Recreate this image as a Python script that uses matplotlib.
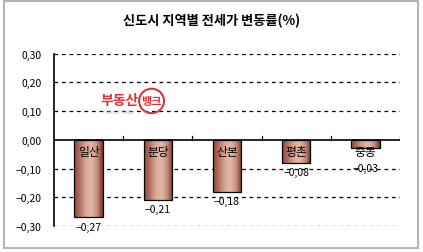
import numpy as np
import matplotlib.pyplot as plt
from matplotlib.colors import LinearSegmentedColormap
from matplotlib.patches import Rectangle, Ellipse
from matplotlib.ticker import FuncFormatter, MultipleLocator

plt.rcParams['font.family'] = ['Noto Sans CJK KR', 'DejaVu Sans']

regions = ["일산", "분당", "산본", "평촌", "중동"]
changes = [-0.27, -0.21, -0.18, -0.08, -0.03]
title = "신도시 지역별 전세가 변동률(%)"


def fmt(v):
    s = f"{v:.2f}".replace(".", ",")
    return s.replace("-", "−")


fig = plt.figure(figsize=(4.23, 2.53), dpi=100)
fig.patches.append(Rectangle((4 / 423, 1 - 249 / 253), 414 / 423, 247 / 253,
                             transform=fig.transFigure, fill=False,
                             edgecolor="#b4b4b4", linewidth=1.5))
ax = fig.add_axes([54 / 423, 1 - 227 / 253, 346 / 423, 172.5 / 253])

x = np.arange(len(regions))
bars = ax.bar(x, changes, width=0.41, facecolor="none", edgecolor="black",
              linewidth=0.9, zorder=4)

# cylinder-like shading across each bar
cmap = LinearSegmentedColormap.from_list(
    "cyl", ["#8c4a3a", "#b47262", "#d6a696", "#e2b9a9", "#c88f7d", "#7a382a"])
grad = np.linspace(0, 1, 64).reshape(1, -1)
for b in bars:
    x0, w = b.get_x(), b.get_width()
    y1 = b.get_height()
    ax.imshow(grad, cmap=cmap, aspect="auto", extent=[x0, x0 + w, y1, 0],
              zorder=3, interpolation="bilinear")

ax.set_xlim(-0.5, len(regions) - 0.5)
ax.set_ylim(-0.30, 0.30)
ax.yaxis.set_major_locator(MultipleLocator(0.1))
ax.yaxis.set_major_formatter(FuncFormatter(lambda v, p: fmt(round(v, 2) + 0.0)))
ax.tick_params(axis="y", length=0, labelsize=7.5, pad=9)
ax.tick_params(axis="x", length=0, labelbottom=False)

for v in [-0.3, -0.2, -0.1, 0.1, 0.2, 0.3]:
    ax.axhline(v, color="black", linestyle=(0, (3, 3)), linewidth=0.9, zorder=1)
ax.axhline(0, color="black", linewidth=1.2, zorder=5)
for b in np.arange(0.5, len(regions), 1.0):
    ax.plot([b, b], [0, 0.012], color="black", linewidth=0.9, zorder=5)

for s in ["top", "right", "bottom"]:
    ax.spines[s].set_visible(False)
ax.spines["left"].set_linewidth(1.2)

for xi, name, v in zip(x, regions, changes):
    ax.text(xi, -0.04, name, ha="center", va="center", fontsize=8.5, zorder=6)
    ax.annotate(fmt(v), (xi, min(v, -0.065)), xytext=(0, -3),
                textcoords="offset points", ha="center", va="top",
                fontsize=7.5, zorder=6)

# watermark
red = "#d8363a"
ax.text(0.44, 0.138, "부동산", ha="center", va="center", fontsize=10,
        fontweight="bold", color=red, zorder=2)
ax.add_patch(Ellipse((0.91, 0.135), 0.36, 0.085, fill=False, edgecolor=red,
                     linewidth=1.5, zorder=2))
ax.text(0.91, 0.135, "뱅크", ha="center", va="center", fontsize=8,
        fontweight="bold", color=red, zorder=2)
ax.text(0.44, 0.098, "SINCE 1988", ha="center", va="center", fontsize=4,
        color="#c0c0c0", zorder=2)

fig.text(212 / 423, 1 - 21 / 253, title, ha="center", va="center",
         fontsize=9.5, fontweight="bold")

fig.savefig("out.png", dpi=100)
